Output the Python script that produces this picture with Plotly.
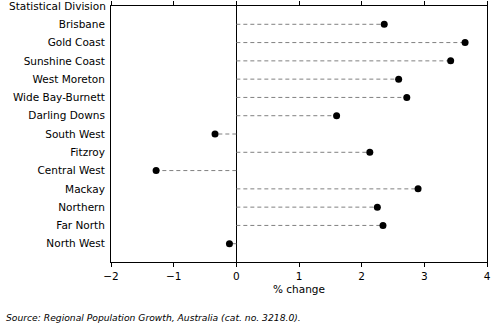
import plotly.graph_objects as go

# Statistical Divisions, top to bottom, and their population change (%)
divisions = [
    "Brisbane", "Gold Coast", "Sunshine Coast", "West Moreton",
    "Wide Bay-Burnett", "Darling Downs", "South West", "Fitzroy",
    "Central West", "Mackay", "Northern", "Far North", "North West",
]
pct_change = [2.36, 3.65, 3.42, 2.59, 2.72, 1.60, -0.34, 2.13,
              -1.28, 2.90, 2.25, 2.34, -0.11]
header = "Statistical Division"
x_ticks = [-2, -1, 0, 1, 2, 3, 4]

rows = list(range(1, len(divisions) + 1))

# dashed leader lines from zero to each value
lx, ly = [], []
for r, v in zip(rows, pct_change):
    lx += [0, v, None]
    ly += [r, r, None]

fig = go.Figure()
fig.add_trace(go.Scatter(
    x=lx, y=ly, mode="lines",
    line=dict(color="#808080", width=1, dash="4px,3px"),
    hoverinfo="skip", showlegend=False,
))
fig.add_trace(go.Scatter(
    x=pct_change, y=rows, mode="markers",
    marker=dict(color="black", size=7),
    showlegend=False,
))

font = dict(family="DejaVu Sans, sans-serif", size=10.5, color="black")

fig.update_layout(
    width=496, height=331,
    margin=dict(l=111, r=9, t=6, b=69, autoexpand=False),
    plot_bgcolor="white", paper_bgcolor="white",
    font=font,
    xaxis=dict(
        range=[-2, 4], tickvals=x_ticks, automargin=False,
        showgrid=False, zeroline=True, zerolinecolor="black", zerolinewidth=1,
        showline=True, linecolor="black", linewidth=1, mirror="ticks",
        ticks="outside", ticklen=4, tickcolor="black",
        title=dict(text="% change", standoff=5, font=font),
    ),
    yaxis=dict(
        range=[14, 0], automargin=False,
        tickvals=rows, ticktext=divisions,
        showgrid=False, zeroline=False,
        showline=True, linecolor="black", linewidth=1, mirror=True,
        ticks="", ticklabelstandoff=3,
    ),
    annotations=[
        # column header sitting level with the top frame line
        dict(
            text=header, xref="paper", yref="y", x=0, y=0,
            xanchor="right", yanchor="middle", xshift=-3,
            showarrow=False, font=font,
        ),
        dict(
            text="<i>Source: Regional Population Growth, Australia (cat. no. 3218.0).</i>",
            xref="paper", yref="paper", x=-107 / 376, y=-48 / 257,
            xanchor="left", yanchor="top", showarrow=False,
            font=dict(family="DejaVu Sans, sans-serif", size=9.2, color="black"),
        ),
    ],
)

fig.write_html("out.html")
